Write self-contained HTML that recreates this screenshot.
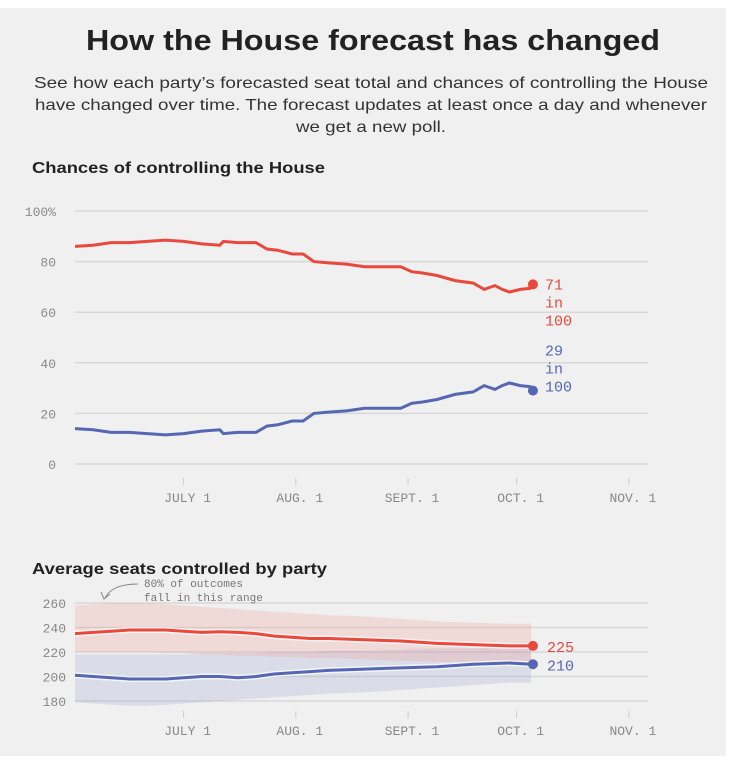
<!DOCTYPE html>
<html><head><meta charset="utf-8"><style>
body{margin:0;background:#fff;width:733px;height:766px;overflow:hidden;font-family:"Liberation Sans",sans-serif}
svg{display:block}
</style></head><body>
<svg id="s" width="733" height="766">
<rect x="0" y="8" width="726" height="748" fill="#f0f0f0"/>
<text x="373" y="50" text-anchor="middle" font-size="29" font-weight="bold" fill="#222" textLength="574" lengthAdjust="spacingAndGlyphs">How the House forecast has changed</text>
<g font-size="16" fill="#333" text-anchor="middle">
<text x="371" y="88" textLength="674" lengthAdjust="spacingAndGlyphs">See how each party’s forecasted seat total and chances of controlling the House</text>
<text x="371" y="110" textLength="672" lengthAdjust="spacingAndGlyphs">have changed over time. The forecast updates at least once a day and whenever</text>
<text x="371" y="132" textLength="150" lengthAdjust="spacingAndGlyphs">we get a new poll.</text>
</g>
<text x="32" y="173" font-size="16" font-weight="bold" fill="#222" textLength="293" lengthAdjust="spacingAndGlyphs">Chances of controlling the House</text>
<text x="32" y="574" font-size="16" font-weight="bold" fill="#222" textLength="295" lengthAdjust="spacingAndGlyphs">Average seats controlled by party</text>
<g id="topg"></g>
<g id="botg"></g>
</svg>
<script>
// shared date axis: days since June 1
const dateTicks=[30,61,92,122,153];
const dateLabels=["JULY 1","AUG. 1","SEPT. 1","OCT. 1","NOV. 1"];
// chances chart
const chanceDays=[0,5,10,15,20,25,30,35,40,41,45,50,53,56,60,63,66,70,75,80,85,90,93,96,100,105,110,113,116,118,120,123,126];
const demChance=[86,86.5,87.5,87.5,88,88.5,88,87,86.5,88,87.5,87.5,85,84.5,83,83,80,79.5,79,78,78,78,76,75.5,74.5,72.5,71.5,69,70.5,69,68,69,69.5];
const repChance=[14,13.5,12.5,12.5,12,11.5,12,13,13.5,12,12.5,12.5,15,15.5,17,17,20,20.5,21,22,22,22,24,24.5,25.5,27.5,28.5,31,29.5,31,32,31,30.5];
const demFinal=71, repFinal=29, finalDay=126.5;
const chanceTicks=[0,20,40,60,80,100];
const chanceTickLabels=["0","20","40","60","80","100%"];
// seats chart
const seatDays=[0,5,10,15,20,25,30,35,40,45,50,55,60,65,70,80,90,100,110,120,126];
const demSeats=[235,236,237,238,238,238,237,236,236.5,236,235,233,232,231,231,230,229,227,226,225,225];
const demHigh=[258,259,260,260,260,259,258,257,256,255,254,253,252,251,250,249,247,245,244,243,243];
const demLow=[220,220,220,220,220,219,219,218,218,217,217,216,216,215,215,214,213,212,211,210,210];
const repSeats=[201,200,199,198,198,198,199,200,200,199,200,202,203,204,205,206,207,208,210,211,210];
const repHigh=[218,218,218,218,218,218,218,219,219,219,219,220,220,220,221,221,222,223,223,224,224];
const repLow=[179,178,177,176,176,177,178,179,180,181,182,183,184,185,186,187,189,191,193,195,195];
const seatFinalD=225, seatFinalR=210;
const seatTicks=[180,200,220,240,260];

const NS="http://www.w3.org/2000/svg";
const X0=75, PXDAY=3.62;
const xd=d=>X0+d*PXDAY;
const yc=v=>464-v*2.53;
const ys=v=>701-(v-180)*1.225;
const RED="#e9483d", BLUE="#5567b2";
function el(p,t,a){const e=document.createElementNS(NS,t);for(const k in a)e.setAttribute(k,a[k]);p.appendChild(e);return e;}
function txt(p,x,y,s,a){const e=el(p,'text',Object.assign({x:x,y:y},a));e.textContent=s;return e;}
function line(xs,ys2){return xs.map((d,i)=>(i?'L':'M')+xd(d).toFixed(1)+','+ys2[i].toFixed(1)).join('');}

const topG=document.getElementById('topg');
chanceTicks.forEach((v,i)=>{
 const g=el(topG,'line',{x1:75,x2:648,y1:yc(v),y2:yc(v),stroke:'#d8d8d8','stroke-width':1.5});
 
 
 const t=txt(topG,56,yc(v)+5,chanceTickLabels[i],{'text-anchor':'end','font-family':'Liberation Mono, monospace','font-size':13,fill:'#888'});
 
 
});
dateTicks.forEach((d,i)=>{
 el(topG,'line',{x1:xd(d),x2:xd(d),y1:478,y2:485,stroke:'#ccc'});
 const t=txt(topG,xd(d)+4,502,dateLabels[i],{'text-anchor':'middle','font-family':'Liberation Mono, monospace','font-size':13,fill:'#888'});
 
 
});
const dl=el(topG,'path',{d:line(chanceDays,demChance.map(yc)),fill:'none',stroke:RED,'stroke-width':3});


const rl=el(topG,'path',{d:line(chanceDays,repChance.map(yc)),fill:'none',stroke:BLUE,'stroke-width':3});


const dd=el(topG,'circle',{cx:xd(finalDay),cy:yc(demFinal),r:5,fill:RED});


const rd=el(topG,'circle',{cx:xd(finalDay),cy:yc(repFinal),r:5,fill:BLUE});


[[demFinal,RED,yc(demFinal)+5],[repFinal,BLUE,yc(repFinal)-35]].forEach(([v,c,y0])=>{
 [String(v),'in','100'].forEach((s,i)=>{
  const t=txt(topG,545,y0+i*18,s,{'font-family':'Liberation Mono, monospace','font-size':15,fill:c});
  
  
 });
});

const botG=document.getElementById('botg');
seatTicks.forEach(v=>{
 const g=el(botG,'line',{x1:75,x2:648,y1:ys(v),y2:ys(v),stroke:'#d8d8d8','stroke-width':1.5});
 
 
 const t=txt(botG,66,ys(v)+5,String(v),{'text-anchor':'end','font-family':'Liberation Mono, monospace','font-size':13,fill:'#888'});
 
 
});
function band(hi,lo,col,name){
 const up=seatDays.map((d,i)=>xd(d).toFixed(1)+','+ys(hi[i]).toFixed(1));
 const dn=seatDays.map((d,i)=>xd(d).toFixed(1)+','+ys(lo[i]).toFixed(1)).reverse();
 const p=el(botG,'path',{d:'M'+up.join('L')+'L'+dn.join('L')+'Z',fill:col,'fill-opacity':0.22});
 
 
}
band(repHigh,repLow,'#8f9bc9','rep-seat-range');
band(demHigh,demLow,'#f08f86','dem-seat-range');
dateTicks.forEach((d,i)=>{
 el(botG,'line',{x1:xd(d),x2:xd(d),y1:711,y2:718,stroke:'#ccc'});
 const t=txt(botG,xd(d)+4,735,dateLabels[i],{'text-anchor':'middle','font-family':'Liberation Mono, monospace','font-size':13,fill:'#888'});
 
 
});
[[demSeats,RED,'dem-seat-line'],[repSeats,BLUE,'rep-seat-line']].forEach(([a,c,n])=>{
 el(botG,'path',{d:line(seatDays,a.map(ys)),fill:'none',stroke:'#fff','stroke-width':6,'stroke-opacity':0.7});
 const p=el(botG,'path',{d:line(seatDays,a.map(ys)),fill:'none',stroke:c,'stroke-width':3});
 
 
});
[[seatFinalD,RED],[seatFinalR,BLUE]].forEach(([v,c])=>{
 const d=el(botG,'circle',{cx:xd(finalDay),cy:ys(v),r:5,fill:c});
 
 
 const t=txt(botG,547,ys(v)+6,String(v),{'font-family':'Liberation Mono, monospace','font-size':15,fill:c});
 
 
});
const n1=txt(botG,144,587,'80% of outcomes',{'font-family':'Liberation Mono, monospace','font-size':11,fill:'#777'});


txt(botG,144,601,'fall in this range',{'font-family':'Liberation Mono, monospace','font-size':11,fill:'#777'});
el(botG,'path',{d:'M138,584 Q112,584 105,598 M101,592 L104,599 L110,594',fill:'none',stroke:'#888','stroke-width':1});
</script>
</body></html>
